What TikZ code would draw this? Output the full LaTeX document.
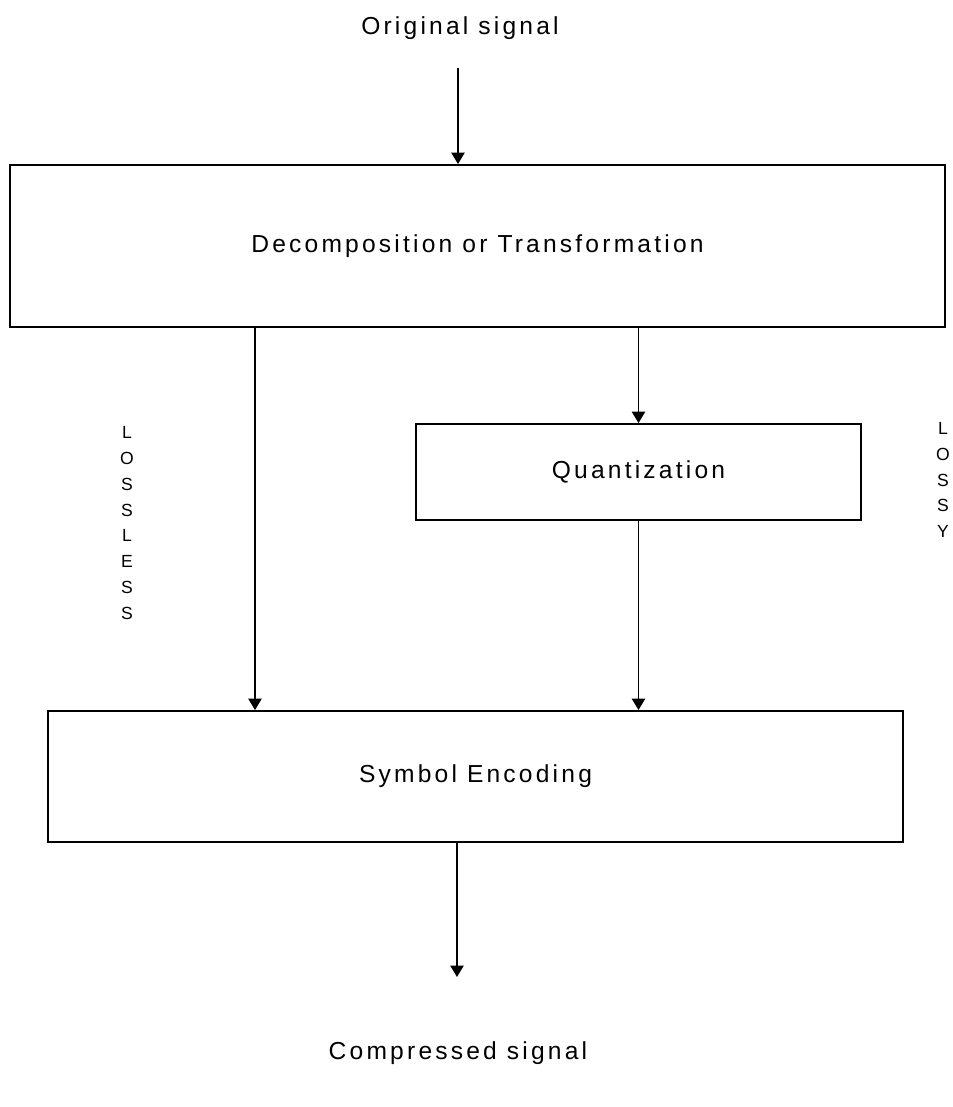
\documentclass[tikz,border=0pt]{standalone}
\usepackage{fontspec}
\setmainfont[LetterSpace=13]{Liberation Sans}
\usetikzlibrary{arrows.meta}
\tikzset{
  blockbox/.style={draw, line width=1.1pt, inner sep=0pt, font=\fontsize{14}{16}\selectfont},
  sidelabel/.style={align=center, font=\fontsize{10}{14.7}\selectfont},
  flow/.style={line width=1.1pt, -{Triangle[width=7.5pt,length=6.5pt]}}
}
\begin{document}
\begin{tikzpicture}[x=0.02cm, y=-0.02cm]
      \useasboundingbox (0,0) rectangle (953,1107);
      \draw
        (460,28) node[font=\fontsize{14}{16}\selectfont] (orig){Original signal}
        (477.5,246) node[blockbox, minimum width=18.7cm, minimum height=3.24cm] (decomp){Decomposition or Transformation}
        (638.5,472) node[blockbox, minimum width=8.9cm, minimum height=1.92cm] (quant){Quantization}
        (475.5,776.5) node[blockbox, minimum width=17.1cm, minimum height=2.62cm] (symb){Symbol Encoding}
        (458,1053) node[font=\fontsize{14}{16}\selectfont] (comp){Compressed signal}
        (127,523) node[sidelabel] (lossless){L\\O\\S\\S\\L\\E\\S\\S}
        (943,480) node[sidelabel] (lossy){L\\O\\S\\S\\Y};
      \coordinate (in) at (458,68);
      \coordinate (out) at (457,977);
      \coordinate (left) at (255,0);
      \begin{scope}[flow]
        \draw (in) to (decomp.north -| in);
        \draw (decomp.south -| left) to (symb.north -| left);
        \draw (decomp.south -| quant) to (quant.north);
        \draw (quant.south) to (symb.north -| quant);
        \draw (symb.south -| out) to (out);
      \end{scope}
    \end{tikzpicture}
\end{document}
